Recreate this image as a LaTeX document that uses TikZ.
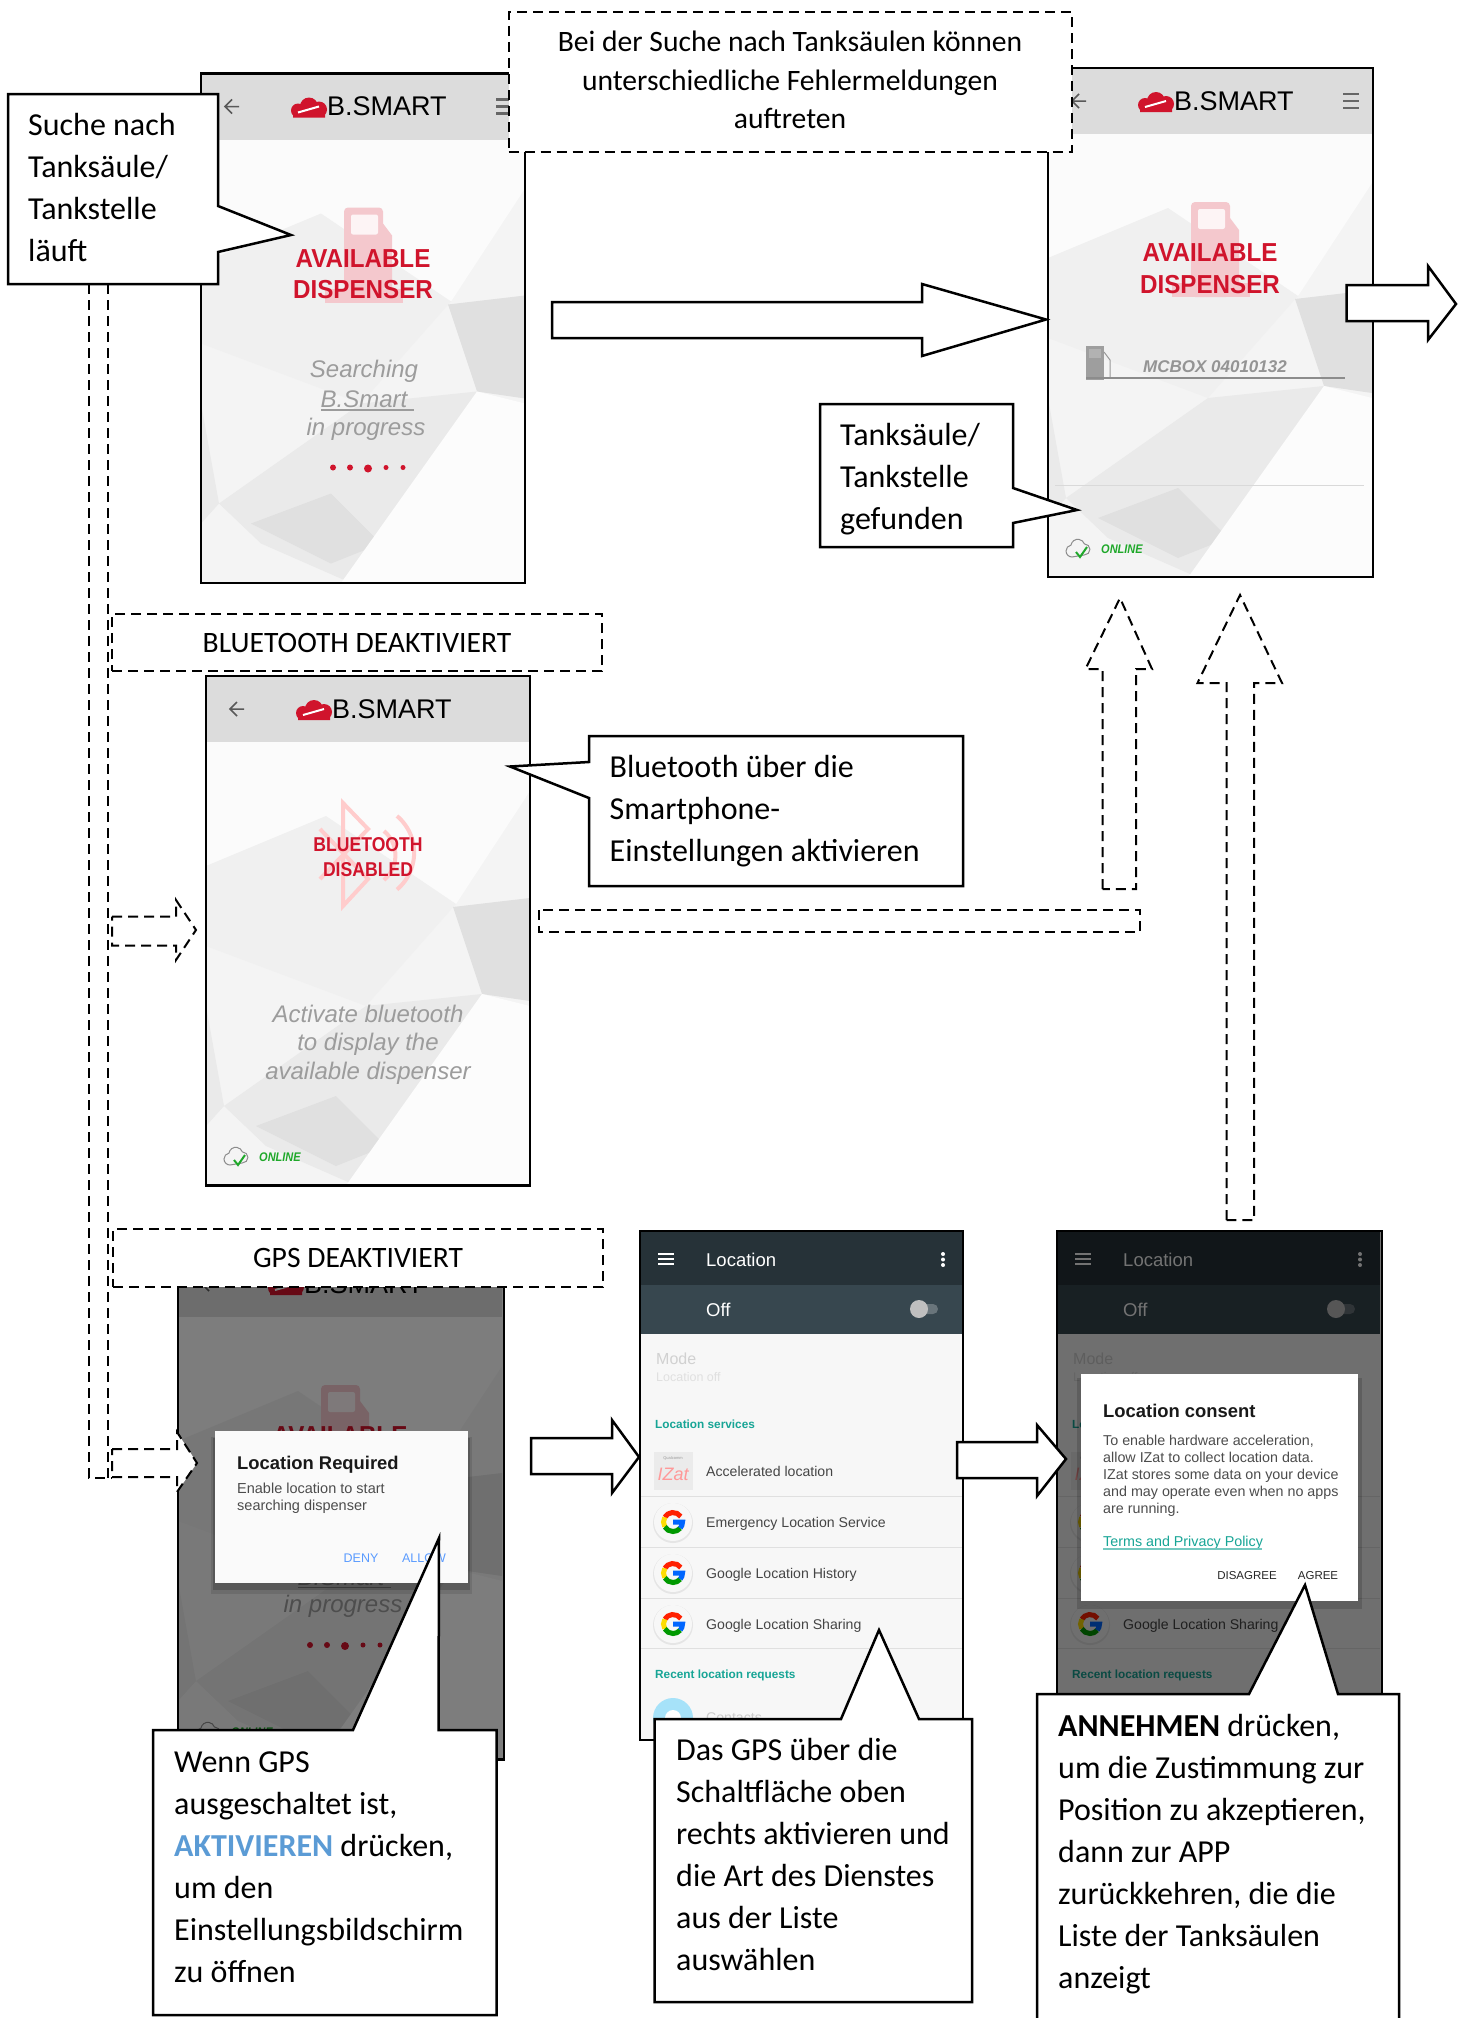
\documentclass[tikz,border=0pt]{standalone}
\usepackage{fontspec}
\setmainfont{Carlito}
\newfontfamily\appfont{Liberation Sans}
\newfontfamily\headfont[FakeStretch=0.93]{Liberation Sans}
\newfontfamily\narrowfont[FakeStretch=0.88]{Liberation Sans}
\newcommand{\fsz}[2]{\fontsize{#1}{#2}\selectfont}

\definecolor{pumpred}{HTML}{F4C8CD}
\definecolor{appred}{HTML}{D0142C}
\definecolor{apptext}{HTML}{9C9C9C}
\definecolor{barhead}{HTML}{DCDCDC}
\definecolor{shadeA}{HTML}{E0E0E0}
\definecolor{shadeB}{HTML}{EAEAEA}
\definecolor{shadeC}{HTML}{F0F0F0}
\definecolor{screenbg}{HTML}{F4F4F4}
\definecolor{darkhead}{HTML}{263238}
\definecolor{darksub}{HTML}{37474F}
\definecolor{tealtext}{HTML}{17A596}
\definecolor{listtext}{HTML}{454545}
\definecolor{dialogblue}{HTML}{5A9BFF}
\definecolor{onlinegreen}{HTML}{1FA82A}
\definecolor{notebold}{HTML}{5B9BD5}

\tikzset{
    phoneframe/.style={draw=black, line width=2.5pt, inner sep=0pt, outer sep=0pt, anchor=north west},
    dashbox/.style={draw=black, fill=white, line width=2pt, dash pattern=on 10pt off 6pt, inner sep=0pt, font=\fsz{29.6}{38.5}, align=center},
    dashline/.style={draw=black, line width=2pt, dash pattern=on 10pt off 6pt},
    blockarrow/.style={draw=black, fill=white, line width=2.5pt, line join=miter},
    callout/.style={draw=black, fill=white, line width=2.5pt},
    notetext/.style={anchor=north west, inner sep=0pt, align=left, font=\fsz{32}{42}},
    apphead/.style={font=\headfont\bfseries\fsz{26}{30}, text=appred, inner sep=0pt},
    appgrey/.style={font=\appfont\itshape\fsz{24}{28}, text=apptext, inner sep=0pt},
    logotext/.style={font=\appfont\fsz{27}{30}, text=black, inner sep=0pt, anchor=west},
    onlinetext/.style={font=\narrowfont\bfseries\itshape\fsz{12.5}{14}, text=onlinegreen, inner sep=0pt, anchor=west},
    listitem/.style={font=\appfont\fsz{14.1}{17}, text=listtext, inner sep=0pt, anchor=west},
    sectitle/.style={font=\appfont\bfseries\fsz{11.8}{15}, text=tealtext, inner sep=0pt, anchor=west},
    dialogtitle/.style={font=\appfont\bfseries\fsz{18.4}{22}, text=black!90, inner sep=0pt, anchor=west},
    dialogbody/.style={font=\appfont\fsz{14.3}{17}, text=black!70, inner sep=0pt, anchor=north west, align=left}
}

% low poly screen background with grey bar and logo
\newcommand{\bsmartscreen}[1]{
\fill[screenbg] (0,0) rectangle (324,509.5);
\fill[white!60!screenbg] (0,66) -- (324,66) -- (324,115) -- (250,228) -- (120,250) -- (0,190) -- cycle;
\fill[shadeC] (0,190) -- (120,140) -- (250,228) -- (160,330) -- (0,270) -- cycle;
\fill[shadeB] (18,430) -- (160,330) -- (276,318) -- (190,470) -- (150,509.5) -- (60,470) -- cycle;
\fill[shadeA] (247,231) -- (324,222) -- (324,325) -- (276,318) -- cycle;
\fill[shadeA] (50,450) -- (130,420) -- (180,470) -- (130,490) -- cycle;
\fill[shadeB] (0,330) -- (18,430) -- (0,450) -- cycle;
\fill[white!70!screenbg] (324,330) -- (324,509.5) -- (140,509.5) -- (276,318) -- cycle;
\fill[barhead] (0,0) rectangle (324,66);
\draw[black!65, line width=1.5pt] (38,33) -- (24,33) (31,26) -- (24,33) -- (31,40);
\fill[appred] (97,37) circle[radius=7pt] (108,33) circle[radius=9pt] (118,36) circle[radius=8pt] (92,37) rectangle (124,44);
\draw[white, line width=2pt] (97,39) -- (118,33);
\node[logotext] (#1logo) at (126,33) {B.SMART};
}
\newcommand{\hamburger}{
\draw[black!60, line width=2.5pt] (295,26) -- (311,26) (295,33) -- (311,33) (295,40) -- (311,40);
}
\newcommand{\availablehead}[1]{
\fill[pumpred, rounded corners=4pt] (143,134) rectangle (182,229);
\fill[pumpred] (124,215) rectangle (202,229);
\fill[pumpred] (182,150) -- (191,162) -- (191,215) -- (182,215) -- cycle;
\fill[white!80!pumpred, rounded corners=2pt] (150,141) rectangle (177,161);
\node[apphead] (#1avail) at (162,185) {AVAILABLE};
\node[apphead] (#1disp) at (162,216.5) {DISPENSER};
}
\newcommand{\searching}[1]{
\node[appgrey] (#1search) at (163,298) {Searching};
\node[appgrey] (#1bsmart) at (163,326) {B.Smart};
\node[appgrey] (#1prog) at (165,355.5) {in progress};
\draw[apptext, line width=1.2pt] (120,336.5) -- (213,336.5);
\fill[appred] (132,394) circle[radius=3pt] (149,394) circle[radius=3pt] (167,395) circle[radius=4pt] (185,394) circle[radius=2.5pt] (202,394) circle[radius=2.5pt];
}
\newcommand{\onlinemark}[1]{
\draw[black!45, line width=1pt] (24,489) arc[start angle=270, end angle=100, radius=6pt] arc[start angle=170, end angle=20, radius=7pt] arc[start angle=90, end angle=-90, radius=5.5pt] -- cycle;
\draw[onlinegreen, line width=2pt] (28,484) -- (32,489) -- (39,479);
\node[onlinetext] (#1online) at (53,481) {ONLINE};
}
% google logo on a round white button
\newcommand{\glogo}[1]{
\fill[black!10] (33,#1+1) circle[radius=20pt];
\fill[white!97!black] (33,#1) circle[radius=19pt];
\draw[line width=5pt, red!75!orange] (33,#1) ++(35:9.5pt) arc[start angle=35, end angle=150, radius=9.5pt];
\draw[line width=5pt, yellow!80!orange] (33,#1) ++(150:9.5pt) arc[start angle=150, end angle=210, radius=9.5pt];
\draw[line width=5pt, green!60!black] (33,#1) ++(210:9.5pt) arc[start angle=210, end angle=320, radius=9.5pt];
\draw[line width=5pt, blue!60!cyan] (33,#1) ++(320:9.5pt) arc[start angle=320, end angle=360, radius=9.5pt] -- (33,#1);
}
\newcommand{\locationscreen}[1]{
\fill[white!97!black] (0,0) rectangle (323,509);
\fill[darkhead] (0,0) rectangle (323,54);
\fill[darksub] (0,54) rectangle (323,103);
\draw[white, line width=1.8pt] (18,23) -- (34,23) (18,28) -- (34,28) (18,33) -- (34,33);
\fill[white] (303,23) circle[radius=2pt] (303,28.5) circle[radius=2pt] (303,34) circle[radius=2pt];
\node[inner sep=0pt, anchor=west, font=\appfont\fsz{18.5}{22}, text=white] (#1title) at (66,29) {Location};
\node[inner sep=0pt, anchor=west, font=\appfont\fsz{18.5}{22}, text=white] (#1off) at (66,79) {Off};
\fill[white!25!darksub, rounded corners=5pt] (273,73) rectangle (298,83);
\fill[black!25] (279,78) circle[radius=9pt];
\node[inner sep=0pt, anchor=west, font=\appfont\fsz{16}{19}, text=black!18] (#1mode) at (16,128) {Mode};
\node[inner sep=0pt, anchor=west, font=\appfont\fsz{12.5}{15}, text=black!12] (#1locoff) at (16,146) {Location off};
\node[sectitle] (#1services) at (15,193) {Location services};
\fill[blue!4!black!8] (14,221) rectangle (53,259);
\node[inner sep=0pt, font=\appfont\fsz{4}{5}, text=black!40] (#1qual) at (33,227) {Qualcomm};
\node[inner sep=0pt, font=\appfont\itshape\fsz{18}{20}, text=red!40] (#1izat) at (33,243) {IZat};
\node[listitem] (#1accel) at (66,240) {Accelerated location};
\draw[black!12, line width=1pt] (0,265) -- (323,265) (0,316) -- (323,316) (0,367) -- (323,367) (0,417) -- (323,417);
\glogo{291}
\glogo{342}
\glogo{393}
\node[listitem] (#1emerg) at (66,292.5) {Emergency Location Service};
\node[listitem] (#1history) at (66,344) {Google Location History};
\node[listitem] (#1sharing) at (66,395) {Google Location Sharing};
\node[sectitle] (#1recent) at (15,444) {Recent location requests};
\fill[cyan!35!white] (33,487) circle[radius=20pt];
\fill[white] (33,487) circle[radius=8pt];
\node[listitem, text=black!20] (#1contact) at (66,487) {Contacts};
}

\begin{document}
\begin{tikzpicture}[x=1pt, y=-1pt]
\useasboundingbox (0,0) rectangle (1466,2018);

% first phone
\begin{scope}[shift={(201,73.5)}]
\bsmartscreen{one}
\hamburger
\availablehead{one}
\searching{one}
\node[phoneframe, minimum width=324pt, minimum height=509.5pt] (phone1) at (0,0) {};
\end{scope}

% second phone
\begin{scope}[shift={(1048,68)}]
\bsmartscreen{two}
\hamburger
\availablehead{two}
\fill[black!38] (38,278) rectangle (56,312);
\fill[white!70!black] (41,281) rectangle (53,290);
\draw[black!40, line width=1pt] (56,284) -- (62,292) -- (62,310);
\draw[black!45, line width=2pt] (38,310) -- (297,310);
\node[inner sep=0pt, font=\appfont\bfseries\itshape\fsz{17}{20}, text=black!42] (mcbox) at (167,299) {MCBOX 04010132};
\draw[white!85!black, line width=1.2pt] (7,417.5) -- (316,417.5);
\onlinemark{two}
\node[phoneframe, minimum width=325pt, minimum height=509pt] (phone2) at (0,0) {};
\end{scope}

% bluetooth phone
\begin{scope}[shift={(206,676)}]
\bsmartscreen{three}
\draw[red!20, line width=4pt, line join=miter] (114,153) -- (162,203) -- (137,230) -- (137,127) -- (162,153) -- (114,203);
\draw[red!20, line width=4pt] (178,155) arc[start angle=50, end angle=-50, radius=32pt];
\draw[red!20, line width=4pt] (191,140) arc[start angle=50, end angle=-50, radius=48pt];
\node[inner sep=0pt, font=\narrowfont\bfseries\fsz{20}{24}, text=appred] (btone) at (162,169) {BLUETOOTH};
\node[inner sep=0pt, font=\narrowfont\bfseries\fsz{20}{24}, text=appred] (bttwo) at (162,194) {DISABLED};
\node[appgrey] (activate) at (162,338) {Activate bluetooth};
\node[appgrey] (display) at (162,368) {to display the};
\node[appgrey] (dispenser) at (162,397) {available dispenser};
\onlinemark{three}
\node[phoneframe, minimum width=324pt, minimum height=509.5pt] (phone3) at (0,0) {};
\end{scope}

% gps phone, dimmed
\begin{scope}[shift={(178,1251)}]
\bsmartscreen{four}
\availablehead{four}
\searching{four}
\onlinemark{four}
\fill[black, opacity=.5] (0,0) rectangle (326,508.5);
\node[phoneframe, minimum width=326pt, minimum height=508.5pt] (phone4) at (0,0) {};
\end{scope}
\fill[black, opacity=.1] (211,1437) rectangle (472,1594);
\fill[black, opacity=.18] (213,1438) rectangle (470,1590);
\fill[white!98!black] (215,1431) rectangle (468,1583);
\node[dialogtitle] (reqtitle) at (237,1465) {Location Required};
\node[dialogbody, font=\appfont\fsz{14.5}{17}] (reqbody) at (237,1483) {Enable location to start\\searching dispenser};
\node[inner sep=0pt, font=\appfont\fsz{12.5}{16}, text=dialogblue] (reqdeny) at (361,1558) {DENY};
\node[inner sep=0pt, font=\appfont\fsz{12.5}{16}, text=dialogblue] (reqallow) at (424,1558) {ALLOW};

% location settings
\begin{scope}[shift={(640,1231)}]
\locationscreen{five}
\node[phoneframe, minimum width=323pt, minimum height=509pt] (phone5) at (0,0) {};
\end{scope}

% location settings with consent dialog
\begin{scope}[shift={(1057,1231)}]
\locationscreen{six}
\fill[black, opacity=.55] (0,0) rectangle (325,509);
\node[phoneframe, minimum width=325pt, minimum height=509pt] (phone6) at (0,0) {};
\end{scope}
\fill[black, opacity=.15] (1077,1378) rectangle (1362,1609);
\fill[white] (1081,1374) rectangle (1358,1601);
\node[dialogtitle] (contitle) at (1103,1411) {Location consent};
\node[dialogbody] (conbody) at (1103,1435) {To enable hardware acceleration,\\allow IZat to collect location data.\\IZat stores some data on your device\\and may operate even when no apps\\are running.};
\node[inner sep=0pt, anchor=west, font=\appfont\fsz{14.3}{17}, text=tealtext] (conterms) at (1103,1543) {Terms and Privacy Policy};
\draw[tealtext!60, line width=1.2pt] (1103,1549) -- (1262,1549);
\node[inner sep=0pt, font=\appfont\fsz{11.5}{14}, text=black!85] (condis) at (1247,1576) {DISAGREE};
\node[inner sep=0pt, font=\appfont\fsz{11.5}{14}, text=black!85] (conagree) at (1318,1576) {AGREE};

% block arrows
\draw[blockarrow] (552,302) -- (922,302) -- (922,284) -- (1046,319.5) -- (922,356) -- (922,338) -- (552,338) -- cycle;
\draw[blockarrow] (1346.5,285) -- (1428,285) -- (1428,266) -- (1456,304) -- (1428,340) -- (1428,321) -- (1346.5,321) -- cycle;
\draw[blockarrow] (531,1438) -- (612,1438) -- (612,1420) -- (639,1457) -- (612,1493) -- (612,1474) -- (531,1474) -- cycle;
\draw[blockarrow] (957,1442) -- (1037,1442) -- (1037,1425) -- (1066,1459) -- (1037,1496) -- (1037,1478) -- (957,1478) -- cycle;

% dashed arrows
\draw[dashline] (89,284) -- (89,1478) -- (112,1478);
\draw[dashline] (108,284) -- (108,1478);
\draw[dashline] (112,916.5) -- (176,916.5) -- (176,900) -- (196,930) -- (176,960) -- (176,945.5) -- (112,945.5) -- cycle;
\draw[dashline, fill=white] (112,1449) -- (177,1449) -- (177,1432) -- (197,1463) -- (177,1492) -- (177,1477) -- (112,1477) -- cycle;
\draw[dashline] (539,910) rectangle (1140,932);
\draw[dashline] (1102.5,889) -- (1102.5,669) -- (1085.5,669) -- (1120,598) -- (1152,669) -- (1136,669) -- (1136,889) -- cycle;
\draw[dashline] (1226.5,1220) -- (1226.5,683) -- (1197.5,683) -- (1240,595) -- (1282,683) -- (1254,683) -- (1254,1220) -- cycle;

% dashed labels
\node[dashbox, minimum width=563pt, minimum height=140pt] (hint) at (790,82) {};
\node[inner sep=0pt, align=center, font=\fsz{29.6}{38.5}] (hinttext) at (790,80) {Bei der Suche nach Tanksäulen können\\unterschiedliche Fehlermeldungen\\auftreten};
\node[dashbox, minimum width=490pt, minimum height=57pt] (btlabel) at (357,642.5) {BLUETOOTH DEAKTIVIERT};
\node[dashbox, minimum width=490pt, minimum height=58pt] (gpslabel) at (358,1258) {GPS DEAKTIVIERT};

% callouts
\draw[callout] (8,94) -- (218,94) -- (218,206) -- (291,235) -- (218,252) -- (218,284) -- (8,284) -- cycle;
\node[notetext] (noteone) at (28,113) {Suche nach\\Tanksäule/\\Tankstelle\\läuft};
\draw[callout] (820,404) -- (1013,404) -- (1013,488) -- (1077,510) -- (1013,523) -- (1013,547) -- (820,547) -- cycle;
\node[notetext] (notetwo) at (840,423) {Tanksäule/\\Tankstelle\\gefunden};
\draw[callout] (589,736) -- (963,736) -- (963,886) -- (589,886) -- (589,798) -- (510,766.5) -- (589,762) -- cycle;
\node[notetext] (notebt) at (609.5,755.5) {Bluetooth über die\\Smartphone-\\Einstellungen aktivieren};
\draw[callout] (153,1730) -- (353,1730) -- (439,1538) -- (438.5,1730) -- (496.5,1730) -- (496.5,2015) -- (153,2015) -- cycle;
\node[notetext] (notegps) at (174,1752) {Wenn GPS\\ausgeschaltet ist,\\{\bfseries\color{notebold}AKTIVIEREN} drücken,\\um den\\Einstellungsbildschirm\\zu öffnen};
\draw[callout] (654.5,1719) -- (841,1719) -- (879,1630) -- (919,1719) -- (972,1719) -- (972,2002) -- (654.5,2002) -- cycle;
\node[notetext] (noteloc) at (676,1738.5) {Das GPS über die\\Schaltfläche oben\\rechts aktivieren und\\die Art des Dienstes\\aus der Liste\\auswählen};
\draw[callout] (1037,2018) -- (1037,1694) -- (1249,1694) -- (1305,1585) -- (1338,1694) -- (1399,1694) -- (1399,2018);
\node[notetext] (noteagree) at (1058,1714) {{\bfseries ANNEHMEN} drücken,\\um die Zustimmung zur\\Position zu akzeptieren,\\dann zur APP\\zurückkehren, die die\\Liste der Tanksäulen\\anzeigt};
\end{tikzpicture}
\end{document}
